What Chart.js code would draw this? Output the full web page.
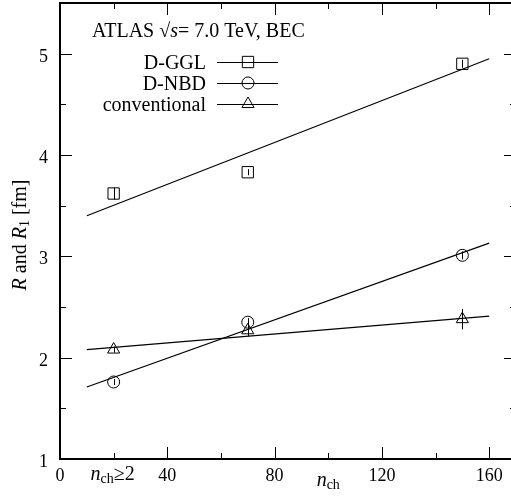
<!DOCTYPE html>
<html>
<head>
<meta charset="utf-8">
<script src="https://cdn.jsdelivr.net/npm/chart.js@4.4.1/dist/chart.umd.min.js"></script>
<style>
  html, body { margin: 0; padding: 0; background: #fff; overflow: hidden; }
  #wrap { width: 516px; height: 497px; }
</style>
</head>
<body>
<div id="wrap"><canvas id="chart" width="516" height="497"></canvas></div>
<script>
// measured points (n_ch bins)
const nch = [20, 70, 150];
const ggl = [3.62, 3.83, 4.90];
const gglErr = [0.06, 0.03, 0.04];
const nbd = [1.76, 2.35, 3.01];
const nbdErr = [0.03, 0.04, 0.04];
const conv = [2.08, 2.27, 2.38];
const convErr = [0.03, 0.06, 0.10];

// linear fits
const fitX = [10, 160];
const gglFit = [3.40, 4.95];
const nbdFit = [1.71, 3.13];
const convFit = [2.08, 2.41];

// axes
const xMajor = [0, 40, 80, 120, 160];
const xMinor = [20, 60, 100, 140];
const yMajor = [1, 2, 3, 4, 5];
const yMinor = [1.5, 2.5, 3.5, 4.5];

const seriesNames = ['D-GGL', 'D-NBD', 'conventional'];

const SERIF = '"Liberation Serif", "DejaVu Serif", serif';
const FS = 20;      // legend, title, axis titles
const TICK_FS = 18; // numbers on the axes

const pts = (xs, ys) => xs.map((x, i) => ({ x: x, y: ys[i] }));

function markerSet(label, ys, errs, style, radius) {
    return {
        label: label, data: pts(nch, ys), errs: errs,
        showLine: false, pointStyle: style, pointRadius: radius, pointHoverRadius: radius,
        borderColor: '#000', backgroundColor: 'rgba(0,0,0,0)', pointBorderWidth: 1
    };
}
function fitSet(ys) {
    return {
        data: pts(fitX, ys), showLine: true, pointRadius: 0,
        borderColor: '#000', borderWidth: 1.2, fill: false
    };
}

// draws a run of text pieces: {t, it, s (size scale), dy}
function rich(ctx, parts, x, y, align) {
    let w = 0;
    const font = p => (p.it ? 'italic ' : '') + Math.round(FS * (p.s || 1)) + 'px ' + SERIF;
    parts.forEach(p => {
        ctx.font = font(p);
        p.w = ctx.measureText(p.t).width;
        w += p.w;
    });
    let cx = align === 'center' ? x - w / 2 : align === 'right' ? x - w : x;
    ctx.textAlign = 'left';
    ctx.textBaseline = 'alphabetic';
    parts.forEach(p => {
        ctx.font = font(p);
        ctx.fillText(p.t, cx, y + (p.dy || 0));
        cx += p.w;
    });
}

const frame = {
    id: 'frame',
    afterDatasetsDraw(chart) {
        const ctx = chart.ctx, a = chart.chartArea;
        const xs = chart.scales.x, ys = chart.scales.y;
        ctx.save();
        ctx.fillStyle = '#000';
        ctx.strokeStyle = '#000';

        // error bars
        ctx.lineWidth = 1;
        chart.data.datasets.forEach(ds => {
            if (!ds.errs) return;
            ds.data.forEach((p, i) => {
                const px = Math.round(xs.getPixelForValue(p.x)) + 0.5;
                ctx.beginPath();
                ctx.moveTo(px, ys.getPixelForValue(p.y - ds.errs[i]));
                ctx.lineTo(px, ys.getPixelForValue(p.y + ds.errs[i]));
                ctx.stroke();
            });
        });

        // inward ticks, mirrored
        const tick = (v, len, axis) => {
            ctx.beginPath();
            if (axis === 'x') {
                const px = Math.round(xs.getPixelForValue(v)) + 0.5;
                ctx.moveTo(px, a.bottom); ctx.lineTo(px, a.bottom - len);
                ctx.moveTo(px, a.top); ctx.lineTo(px, a.top + len);
            } else {
                const py = Math.round(ys.getPixelForValue(v)) + 0.5;
                ctx.moveTo(a.left, py); ctx.lineTo(a.left + len, py);
                ctx.moveTo(a.right, py); ctx.lineTo(a.right - len, py);
            }
            ctx.stroke();
        };
        xMajor.forEach(v => tick(v, 12, 'x'));
        xMinor.forEach(v => tick(v, 6, 'x'));
        yMajor.forEach(v => tick(v, 12, 'y'));
        yMinor.forEach(v => tick(v, 6, 'y'));

        // frame
        ctx.lineWidth = 2;
        ctx.strokeRect(a.left, a.top, a.right - a.left, a.bottom - a.top);

        // tick labels
        ctx.font = TICK_FS + 'px ' + SERIF;
        ctx.textBaseline = 'alphabetic';
        ctx.textAlign = 'center';
        xMajor.forEach(v => ctx.fillText(String(v), xs.getPixelForValue(v), a.bottom + 22));
        ctx.textAlign = 'right';
        yMajor.forEach(v => ctx.fillText(String(v), a.left - 12, ys.getPixelForValue(v) + 8));

        // axis titles
        rich(ctx, [{ t: 'n', it: true }, { t: 'ch', s: 0.72, dy: 3 }, { t: '\u22652' }],
            xs.getPixelForValue(xMinor[0]) - 1, a.bottom + 21, 'center');
        rich(ctx, [{ t: 'n', it: true }, { t: 'ch', s: 0.72, dy: 3 }],
            xs.getPixelForValue(xMinor[2]), a.bottom + 27, 'center');

        ctx.save();
        ctx.translate(26, (a.top + a.bottom) / 2 + 4);
        ctx.rotate(-Math.PI / 2);
        rich(ctx, [{ t: 'R', it: true }, { t: ' and ' }, { t: 'R', it: true }, { t: '1', s: 0.72, dy: 3 }, { t: ' [fm]' }],
            0, 0, 'center');
        ctx.restore();

        // title
        rich(ctx, [{ t: 'ATLAS ' }, { t: '\u221A' }, { t: 's', it: true }, { t: '= 7.0 TeV, BEC' }], 92, 37, 'left');

        // legend
        const markers = chart.data.datasets.filter(ds => ds.errs);
        markers.forEach((ds, i) => {
            const ly = 62 + i * 21;
            ctx.font = FS + 'px ' + SERIF;
            ctx.textAlign = 'right';
            ctx.textBaseline = 'alphabetic';
            ctx.fillText(seriesNames[i], 206, ly + 7);
            ctx.lineWidth = 1.2;
            ctx.beginPath();
            ctx.moveTo(217, ly + 0.5); ctx.lineTo(278, ly + 0.5);
            ctx.stroke();
            ctx.lineWidth = 1;
            ctx.fillStyle = 'rgba(0,0,0,0)';
            Chart.helpers.drawPoint(ctx, { pointStyle: ds.pointStyle, radius: ds.pointRadius, rotation: 0, borderWidth: 1 }, 248, ly);
            ctx.fillStyle = '#000';
        });
        ctx.restore();
    }
};

new Chart(document.getElementById('chart'), {
    type: 'scatter',
    data: {
        datasets: [
            fitSet(gglFit), fitSet(nbdFit), fitSet(convFit),
            markerSet(seriesNames[0], ggl, gglErr, 'rect', 8),
            markerSet(seriesNames[1], nbd, nbdErr, 'circle', 6),
            markerSet(seriesNames[2], conv, convErr, 'triangle', 7)
        ]
    },
    options: {
        responsive: false,
        animation: false,
        devicePixelRatio: 1,
        layout: { autoPadding: false, padding: { left: 60, top: 3, right: 0, bottom: 38 } },
        plugins: { legend: { display: false }, tooltip: { enabled: false } },
        scales: {
            x: { type: 'linear', min: 0, max: 170, display: false },
            y: { type: 'linear', min: 1, max: 5.5, display: false }
        }
    },
    plugins: [frame]
});
</script>
</body>
</html>
